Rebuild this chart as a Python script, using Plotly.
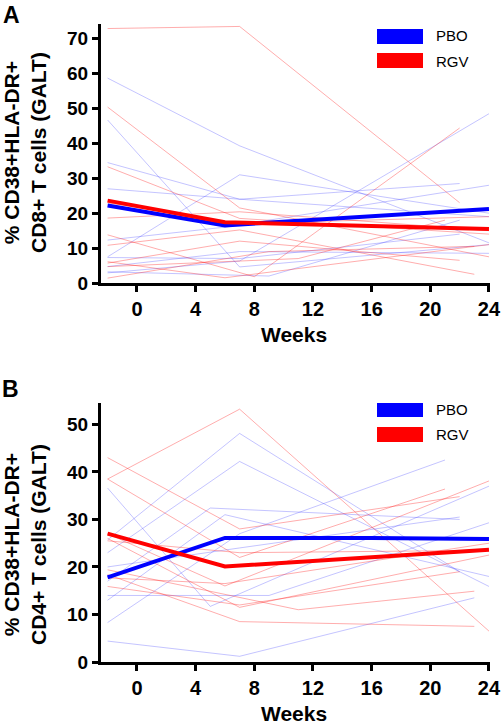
import plotly.graph_objects as go

# ---------------- data ----------------
# Panel A: CD8+  (weeks, values) per subject
A_PBO_weeks = [[-2, 7, 24], [-2, 7, 24], [-2, 7, 22], [-2, 7, 24], [-2, 7, 24],
               [-2, 7, 24], [-2, 7, 22], [-2, 7, 24], [-2, 9, 22], [-2, 6, 24]]
A_PBO_vals = [[58.7, 39.3, 11.5], [46.7, 4.6, 11.0], [34.5, 24.0, 28.5], [2.9, 6.3, 48.5],
              [7.5, 31.0, 20.0], [27.0, 24.0, 19.0], [7.3, 7.0, 14.0], [4.7, 9.0, 8.5],
              [3.2, 2.0, 18.0], [12.3, 16.0, 28.0]]
A_RGV_weeks = [[-2, 7, 22], [-2, 7, 24], [-2, 7, 24], [-2, 8, 22], [-2, 7, 24], [-2, 7, 23],
               [-2, 6, 24], [-2, 7, 22], [-2, 9, 23], [-2, 7, 24], [-2, 11, 21]]
A_RGV_vals = [[72.9, 73.5, 23.0], [50.4, 21.5, 7.5], [33.3, 18.5, 14.0], [13.8, 1.8, 44.4],
              [18.6, 20.4, 15.0], [10.8, 15.2, 2.5], [6.1, 1.5, 11.0], [5.7, 12.0, 6.5],
              [1.4, 9.0, 10.5], [23.0, 17.0, 19.0], [4.7, 7.0, 18.0]]
A_PBO_mean_weeks = [-2, 6, 24]
A_PBO_mean = [22.2, 16.5, 21.2]
A_RGV_mean_weeks = [-2, 6, 24]
A_RGV_mean = [23.6, 17.4, 15.5]

# Panel B: CD4+
B_PBO_weeks = [[-2, 5, 24], [-2, 7, 22], [-2, 7, 24], [-2, 5, 22], [-2, 9, 24],
               [-2, 7, 21], [-2, 7, 23], [-2, 6, 24], [-2, 7, 22]]
B_PBO_vals = [[36.6, 11.7, 37.0], [25.7, 48.1, 19.0], [23.0, 42.2, 15.9], [17.0, 32.4, 30.0],
              [14.0, 14.0, 29.3], [8.3, 27.0, 42.5], [4.4, 1.2, 13.5], [13.0, 31.0, 18.0],
              [20.0, 24.0, 30.5]]
B_RGV_weeks = [[-2, 7, 24], [-2, 7, 22], [-2, 7, 21], [-2, 6, 24], [-2, 7, 24],
               [-2, 11, 23], [-2, 7, 23], [-2, 6, 24], [-2, 7, 22], [-2, 7, 24]]
B_RGV_vals = [[38.5, 53.2, 6.5], [43.0, 28.0, 34.8], [38.5, 22.0, 36.4], [27.0, 16.0, 38.1],
              [26.0, 11.5, 22.5], [19.4, 11.0, 14.9], [18.4, 8.5, 7.5], [17.7, 16.5, 25.0],
              [15.9, 12.0, 19.0], [25.5, 23.0, 23.5]]
B_PBO_mean_weeks = [-2, 6, 16, 24]
B_PBO_mean = [17.8, 26.1, 26.1, 25.9]
B_RGV_mean_weeks = [-2, 6, 24]
B_RGV_mean = [27.0, 20.1, 23.6]

x_ticks = [0, 4, 8, 12, 16, 20, 24]
A_y_ticks = [0, 10, 20, 30, 40, 50, 60, 70]
B_y_ticks = [0, 10, 20, 30, 40, 50]
groups = ["PBO", "RGV"]

# ---------------- styling ----------------
W, H = 502, 724
ML, MR, MT, MB = 101, 12, 24, 62
PW, PH = W - ML - MR, H - MT - MB
FONT = "Liberation Sans, Arial, sans-serif"
BLUE, RED = "#0000FF", "#FF0000"
LBLUE, LRED = "rgba(60,60,255,0.30)", "rgba(255,40,40,0.38)"


def px_x(p):
    return (p - ML) / PW


def px_y(p):
    return (H - MB - p) / PH


fig = go.Figure()

panels = [
    ("x", "y", A_PBO_weeks, A_PBO_vals, A_RGV_weeks, A_RGV_vals,
     A_PBO_mean_weeks, A_PBO_mean, A_RGV_mean_weeks, A_RGV_mean),
    ("x2", "y2", B_PBO_weeks, B_PBO_vals, B_RGV_weeks, B_RGV_vals,
     B_PBO_mean_weeks, B_PBO_mean, B_RGV_mean_weeks, B_RGV_mean),
]
for xa, ya, pw, pv, rw, rv, pmw, pm, rmw, rm in panels:
    for wk, v in zip(pw, pv):
        fig.add_trace(go.Scatter(x=wk, y=v, mode="lines", xaxis=xa, yaxis=ya,
                                 line=dict(color=LBLUE, width=1), showlegend=False,
                                 hoverinfo="skip"))
    for wk, v in zip(rw, rv):
        fig.add_trace(go.Scatter(x=wk, y=v, mode="lines", xaxis=xa, yaxis=ya,
                                 line=dict(color=LRED, width=1), showlegend=False,
                                 hoverinfo="skip"))
    fig.add_trace(go.Scatter(x=pmw, y=pm, mode="lines", xaxis=xa, yaxis=ya, name=groups[0],
                             line=dict(color=BLUE, width=4), showlegend=False))
    fig.add_trace(go.Scatter(x=rmw, y=rm, mode="lines", xaxis=xa, yaxis=ya, name=groups[1],
                             line=dict(color=RED, width=4), showlegend=False))

axis_common = dict(showline=True, linewidth=3, linecolor="black", ticks="outside",
                   ticklen=6, tickwidth=3, tickcolor="black", showgrid=False,
                   zeroline=False, mirror=False, automargin=False)
xtickfont = dict(family=FONT, size=20, color="black", weight="bold")
ytickfont = dict(family=FONT, size=19, color="black", weight="bold")

domA = [px_y(283), 1.0]
domB = [0.0, px_y(403)]

fig.update_layout(
    width=W, height=H, margin=dict(l=ML, r=MR, t=MT, b=MB, autoexpand=False),
    paper_bgcolor="white", plot_bgcolor="white", showlegend=False,
    xaxis=dict(axis_common, domain=[0, 1], range=[-2.45, 24.07], tickvals=x_ticks,
               anchor="y", tickfont=xtickfont),
    yaxis=dict(axis_common, domain=domA, range=[0, 74.2], tickvals=A_y_ticks,
               anchor="x", tickfont=ytickfont),
    xaxis2=dict(axis_common, domain=[0, 1], range=[-2.45, 24.07], tickvals=x_ticks,
                anchor="y2", tickfont=xtickfont),
    yaxis2=dict(axis_common, domain=domB, range=[0, 54.5], tickvals=B_y_ticks,
                anchor="x2", tickfont=ytickfont),
)

annotations = []
shapes = []
title_font = dict(family=FONT, size=21, color="black", weight="bold")

# panel letters
annotations.append(dict(text="A", x=px_x(11), y=px_y(15), xref="paper", yref="paper",
                        showarrow=False, xanchor="center", yanchor="middle",
                        font=dict(family=FONT, size=23, color="black", weight="bold")))
annotations.append(dict(text="B", x=px_x(10), y=px_y(389), xref="paper", yref="paper",
                        showarrow=False, xanchor="center", yanchor="middle",
                        font=dict(family=FONT, size=23, color="black", weight="bold")))

# x-axis titles
for cy in (334, 713):
    annotations.append(dict(text="Weeks", x=px_x(294), y=px_y(cy), xref="paper", yref="paper",
                            showarrow=False, xanchor="center", yanchor="middle", font=title_font))

# y-axis titles
ytitles = [("% CD38+HLA-DR+<br>CD8+ T cells (GALT)", 153),
           ("% CD38+HLA-DR+<br>CD4+ T cells (GALT)", 545)]
for txt, cy in ytitles:
    annotations.append(dict(text=txt, x=px_x(25), y=px_y(cy), xref="paper", yref="paper",
                            showarrow=False, xanchor="center", yanchor="middle",
                            textangle=-90, font=title_font))

# legends (blocks + labels)
legend_rows = [((29, 44), 36, BLUE, groups[0]), ((53, 68), 61, RED, groups[1]),
               ((403, 417), 409, BLUE, groups[0]), ((427, 442), 434, RED, groups[1])]
for (t, b), cy, col, lab in legend_rows:
    shapes.append(dict(type="rect", xref="paper", yref="paper",
                       x0=px_x(377), x1=px_x(423), y0=px_y(b), y1=px_y(t),
                       fillcolor=col, line=dict(color=col, width=0)))
    annotations.append(dict(text=lab, x=px_x(434), y=px_y(cy), xref="paper", yref="paper",
                            showarrow=False, xanchor="left", yanchor="middle",
                            font=dict(family=FONT, size=15, color="black")))

fig.update_layout(annotations=annotations, shapes=shapes)
fig.write_html("out.html", config={"displayModeBar": False},
               post_script="document.body.style.margin='0px';document.body.style.overflow='hidden';")
